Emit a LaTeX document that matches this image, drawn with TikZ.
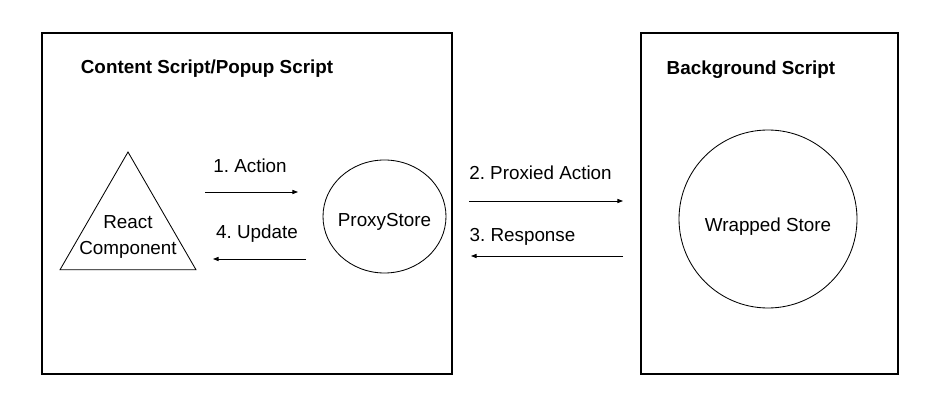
\documentclass[tikz,border=0pt]{standalone}
\usepackage{fontspec}
\setmainfont{Liberation Sans}
\usetikzlibrary{arrows.meta,shapes.geometric}
\frenchspacing
\begin{document}
\begin{tikzpicture}[
    font=\fontsize{13.4}{18.5}\selectfont,
    scriptbox/.style={rectangle, draw, line width=1.1pt, minimum height=8.525cm},
    store/.style={ellipse, draw, line width=0.6pt, inner sep=0pt},
    arrow/.style={-{Triangle[length=4pt,width=3pt]}, line width=0.6pt}
]
    \useasboundingbox (0,0) rectangle (23.5,-10.2);

    % Left side: content script / popup script
    \node[scriptbox, minimum width=10.25cm] (content) at (6.175,-5.0875) {};
    \node (contentTitle) at (5.175,-1.725) {\textbf{Content Script/Popup Script}};

    \node[regular polygon, regular polygon sides=3, draw, line width=0.6pt, minimum size=3.925cm, inner sep=0pt] (react) at (3.2,-5.7625) {};
    \node[align=center] (reactText) at (3.2,-5.925) {React\\Component};

    \node[store, minimum width=3.075cm, minimum height=2.825cm,
          label={[yshift=-0.14cm]center:ProxyStore}] (proxy) at (9.6125,-5.4125) {};

    % Arrows between component and proxy store
    \coordinate (actionS) at (5.125,-4.8);
    \coordinate (actionE) at (7.45,-4.8);
    \draw[arrow] (actionS) -- (actionE);
    \node (actionLbl) at (6.25,-4.15) {1. Action};

    \coordinate (updateS) at (7.65,-6.475);
    \coordinate (updateE) at (5.325,-6.475);
    \draw[arrow] (updateS) -- (updateE);
    \node (updateLbl) at (6.425,-5.85) {4. Update};

    % Right side: background script
    \node[scriptbox, minimum width=6.425cm] (background) at (19.2375,-5.0875) {};
    \node (backgroundTitle) at (18.775,-1.75) {\textbf{Background Script}};

    \node[store, minimum size=4.45cm,
          label={[yshift=-0.2cm]center:Wrapped Store}] (wrapped) at (19.2,-5.475) {};

    % Arrows between the two scripts
    \coordinate (proxiedS) at (11.725,-5.025);
    \coordinate (proxiedE) at (15.575,-5.025);
    \draw[arrow] (proxiedS) -- (proxiedE);
    \node (proxiedLbl) at (13.5125,-4.325) {2. Proxied Action};

    \coordinate (responseS) at (15.575,-6.4);
    \coordinate (responseE) at (11.775,-6.4);
    \draw[arrow] (responseS) -- (responseE);
    \node (responseLbl) at (13.0625,-5.925) {3. Response};
\end{tikzpicture}
\end{document}
